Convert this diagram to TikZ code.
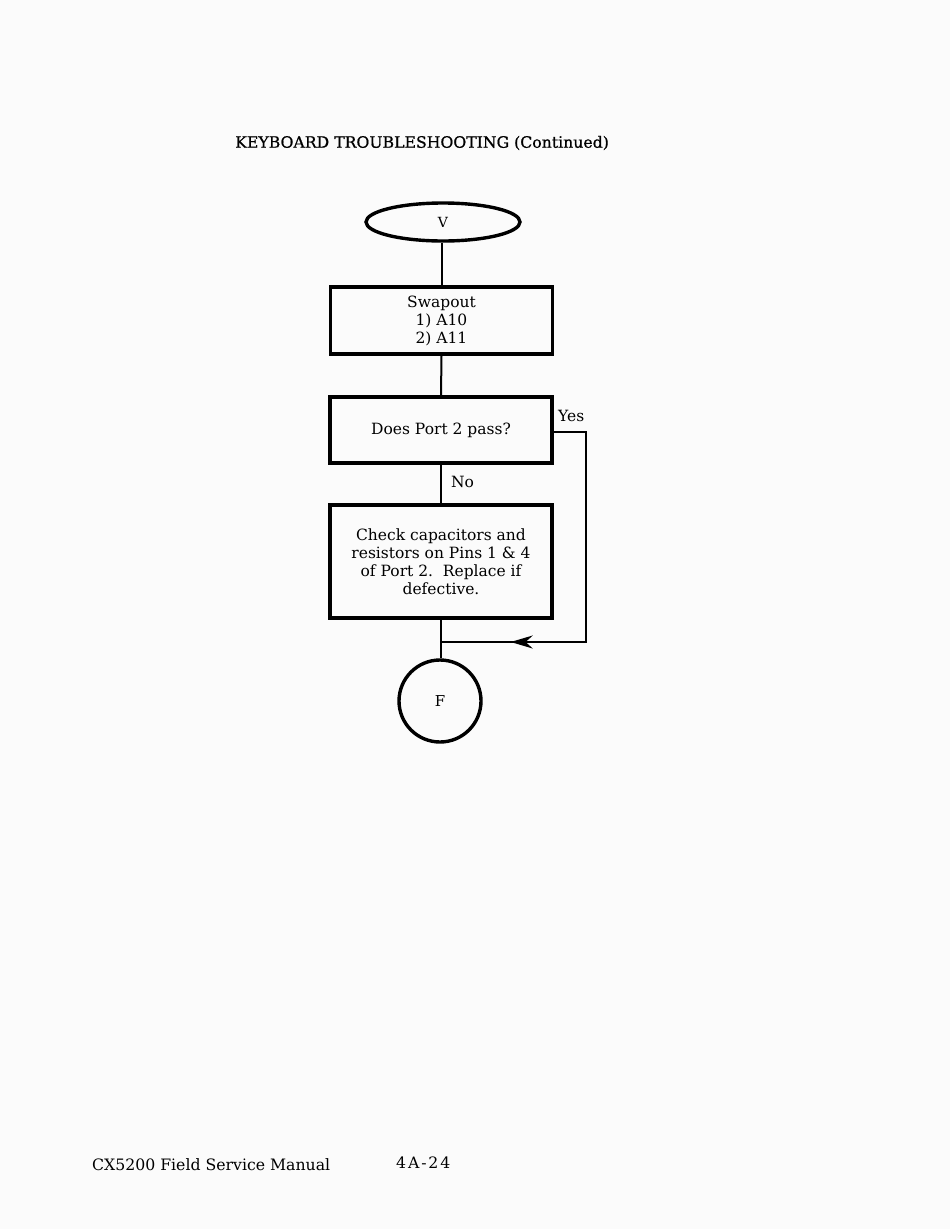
\documentclass[tikz,border=0pt]{standalone}
\usepackage{fontspec}
\setmainfont{DejaVu Serif}
\usetikzlibrary{shapes.geometric,decorations.markings,arrows.meta}
\begin{document}
\begin{tikzpicture}[x=1pt,y=-1pt,
  box/.style={draw,line width=3.4pt,minimum width=222pt,align=center,font=\fontsize{15.5}{18}\selectfont,inner sep=0pt},
  conn/.style={line width=2pt},
  lbl/.style={font=\fontsize{15.5}{18}\selectfont,inner sep=0pt},
  midarrow/.style={postaction={decorate},decoration={markings,mark=at position 0.82 with {\arrow{Stealth[length=22pt,width=13pt]}}}}]
\fill[gray!3] (0,0) rectangle (950,1229);
\useasboundingbox (0,0) rectangle (950,1229);
\node[lbl,font=\fontsize{15.7}{18}\selectfont\addfontfeature{FakeBold=0.8},anchor=west] (title) at (235,143) {KEYBOARD TROUBLESHOOTING (Continued)};
\node[draw,ellipse,line width=3.4pt,minimum width=154pt,minimum height=38pt,inner sep=0pt,font=\fontsize{14}{16}\selectfont] (v) at (443,222) {V};
\node[box,minimum height=67pt] (swap) at (441.5,320.5) {Swapout\\1) A10\\2) A11};
\node[box,minimum height=66pt] (q) at (441,430) {Does Port 2 pass?};
\node[box,minimum height=113pt] (chk) at (441,561.5) {Check capacitors and\\resistors on Pins 1 \& 4\\of Port 2.\ \ Replace if\\defective.};
\node[draw,circle,line width=3.4pt,minimum size=82pt,inner sep=0pt,font=\fontsize{15}{17}\selectfont] (f) at (440,701) {F};
\coordinate (j) at (441,642);
\coordinate (r) at (586,432);
\draw[conn] (v.south -| swap.north) -- (swap.north);
\draw[conn] (swap.south) -- (q.north);
\draw[conn] (q.south) -- node[lbl,pos=0.45,right=9pt] (no) {No} (chk.north);
\draw[conn] (chk.south) -- (j) -- (f.north -| j);
\draw[conn,midarrow] (q.east |- r) -- (r) |- (j);
\node[lbl,anchor=west] (yes) at (558,416) {Yes};
\node[lbl,anchor=west,font=\fontsize{15.7}{18}\selectfont] (foot) at (92,1165) {CX5200 Field Service Manual};
\node[lbl,anchor=west,font=\fontsize{15.7}{18}\addfontfeature{LetterSpace=12}\selectfont] (page) at (396,1163) {4A-24};
\end{tikzpicture}
\end{document}
